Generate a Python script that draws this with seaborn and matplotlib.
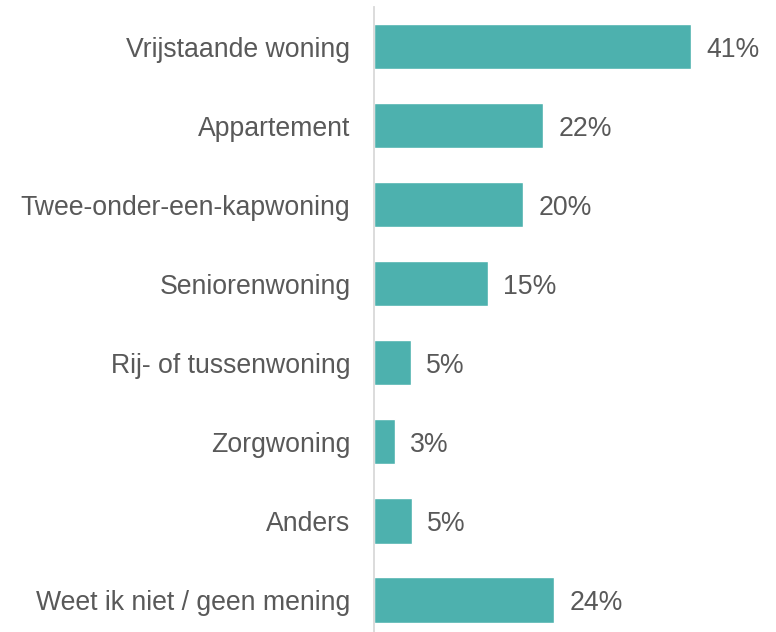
import matplotlib
matplotlib.use("Agg")
import matplotlib.pyplot as plt
import seaborn as sns

categories = ["Vrijstaande woning", "Appartement", "Twee-onder-een-kapwoning",
              "Seniorenwoning", "Rij- of tussenwoning", "Zorgwoning", "Anders",
              "Weet ik niet / geen mening"]
values = [41.0, 21.9, 19.3, 14.7, 4.8, 2.7, 4.9, 23.3]
labels = ["41%", "22%", "20%", "15%", "5%", "3%", "5%", "24%"]

sns.set_style("white")
plt.rcParams["font.family"] = ["Liberation Sans", "DejaVu Sans"]

grey = "#595959"
teal = "#4DB1AE"

fig = plt.figure(figsize=(7.76, 6.32), dpi=100)
ax = fig.add_axes([0.482, 0.0, 0.518, 0.989])

sns.barplot(x=values, y=categories, orient="h", color=teal, saturation=1,
            width=0.57, ax=ax)

texts = ax.bar_label(ax.containers[0], labels=labels, padding=11,
                     fontsize=19.2, color=grey)
for t in texts:
    t.set_va("center_baseline")

ax.set_xlim(0, 52)
ax.set_ylim(7.405, -0.506)
ax.set_xlabel("")
ax.set_ylabel("")
ax.set_xticks([])
ax.tick_params(axis="y", length=0, pad=17, labelsize=19.2, labelcolor=grey)

for side in ["top", "right", "bottom"]:
    ax.spines[side].set_visible(False)
ax.spines["left"].set_color("#D9D9D9")
ax.spines["left"].set_linewidth(1.3)

fig.savefig("out.png", dpi=100)
